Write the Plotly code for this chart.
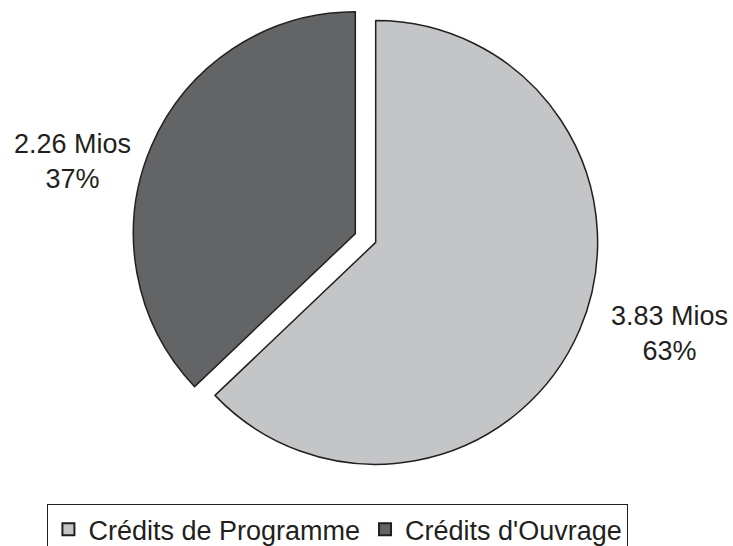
import plotly.graph_objects as go

categories = ["Crédits de Programme", "Crédits d'Ouvrage"]
values_mios = [3.83, 2.26]
colors = ["#c4c5c7", "#636466"]
label_pos = [(0.9152, 0.2961), (0.0985, 0.6642)]

total = sum(values_mios)

fig = go.Figure()
fig.add_trace(go.Pie(
    labels=categories,
    values=values_mios,
    sort=False,
    direction="clockwise",
    rotation=0,
    pull=[0.05, 0.05],
    marker=dict(colors=colors, line=dict(color="#231f20", width=1.5)),
    textinfo="none",
    hoverinfo="label+value+percent",
))

for cat, v, (px, py) in zip(categories, values_mios, label_pos):
    fig.add_annotation(
        x=px, y=py, xref="paper", yref="paper",
        xanchor="center", yanchor="middle",
        text=f"{v:.2f} Mios<br>{round(100 * v / total)}%",
        showarrow=False, align="center",
        font=dict(family="Liberation Sans, Arial, sans-serif", size=27, color="#231f20"),
    )

fig.update_layout(
    width=733, height=546,
    margin=dict(l=0, r=2, t=5, b=75, autoexpand=False),
    paper_bgcolor="white", plot_bgcolor="white",
    showlegend=True,
    legend=dict(
        orientation="h",
        xref="container", x=0.461, xanchor="center",
        yref="container", y=0.0764, yanchor="top",
        bordercolor="#231f20", borderwidth=1,
        font=dict(family="Liberation Sans, Arial, sans-serif", size=27, color="#231f20"),
        itemsizing="constant",
        traceorder="normal",
    ),
    font=dict(family="Liberation Sans, Arial, sans-serif"),
)

fig.write_html(
    "out.html",
    config={"displayModeBar": False},
    post_script="document.body.style.margin='0';document.body.style.overflow='hidden';",
)
